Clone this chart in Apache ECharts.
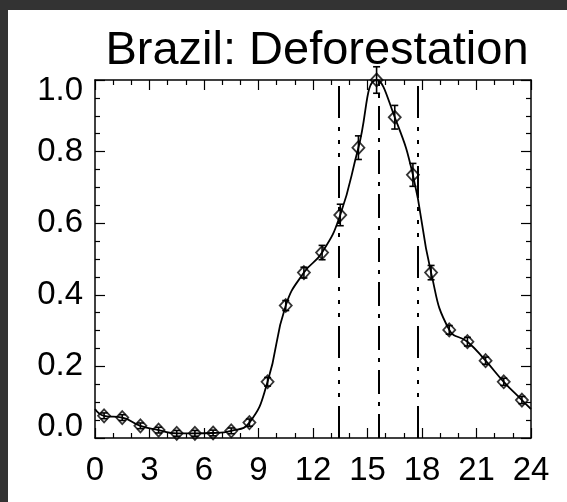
<!DOCTYPE html>
<html><head><meta charset="utf-8">
<script src="https://cdn.jsdelivr.net/npm/echarts@6/dist/echarts.min.js"></script>
<style>
html,body{margin:0;padding:0;background:#333333;width:567px;height:502px;overflow:hidden}
#c{position:absolute;left:8px;top:10px;width:559px;height:492px;background:#ffffff}
</style></head><body><div id="c"></div>
<script>
const chartTitle = 'Brazil: Deforestation';
const hours = [0.5,1.5,2.5,3.5,4.5,5.5,6.5,7.5,8.5,9.5,10.5,11.5,12.5,13.5,14.5,15.5,16.5,17.5,18.5,19.5,20.5,21.5,22.5,23.5];
const values = [0.062,0.057,0.034,0.022,0.013,0.013,0.014,0.020,0.043,0.157,0.370,0.462,0.518,0.623,0.811,1.000,0.896,0.735,0.462,0.302,0.269,0.216,0.157,0.106];
const errors = [0.008,0.008,0.008,0.008,0.008,0.008,0.008,0.008,0.010,0.012,0.014,0.015,0.020,0.030,0.033,0.037,0.033,0.032,0.020,0.012,0.012,0.010,0.010,0.010];
const curveStartX = 0, curveStartY = 0.081;
const curveEndX = 24, curveEndY = 0.081;
const xTickValues = [0,3,6,9,12,15,18,21,24];
const yTickValues = [0.0,0.2,0.4,0.6,0.8,1.0];
const markerLines = [13.39, 15.63, 17.76];

const FONT = '"Liberation Sans", Arial, Helvetica, sans-serif';
const curveData = [[curveStartX, curveStartY]].concat(hours.map((h,i)=>[h, values[i]])).concat([[curveEndX, curveEndY]]);
const pointData = hours.map((h,i)=>[h, values[i], errors[i]]);
const dashDotDotDot = [32,9,4,9,4,9,4,9];
const dashDot = [24,8,4,8];

const baseX = {
  type:'value', min:xTickValues[0], max:xTickValues[xTickValues.length-1], interval:3,
  axisLine:{show:true, onZero:false, lineStyle:{color:'#000', width:1.5}},
  axisTick:{show:true, inside:true, length:10, lineStyle:{color:'#000', width:1.2}},
  minorTick:{show:true, splitNumber:3, length:5, lineStyle:{color:'#000', width:1.2}},
  splitLine:{show:false}, minorSplitLine:{show:false}
};
const baseY = {
  type:'value', min:yTickValues[0], max:yTickValues[yTickValues.length-1], interval:0.2,
  axisLine:{show:true, onZero:false, lineStyle:{color:'#000', width:1.5}},
  axisTick:{show:true, inside:true, length:10, lineStyle:{color:'#000', width:1.2}},
  minorTick:{show:true, splitNumber:4, length:5, lineStyle:{color:'#000', width:1.2}},
  splitLine:{show:false}, minorSplitLine:{show:false}
};

const chart = echarts.init(document.getElementById('c'), null, {renderer:'canvas'});
chart.setOption({
  animation:false,
  backgroundColor:'#ffffff',
  title:{text:chartTitle, left:304, top:13, textAlign:'center',
    textStyle:{fontFamily:FONT, fontSize:47, fontWeight:'normal', color:'#000'}},
  grid:{left:87, top:70, right:36, bottom:64, containLabel:false},
  xAxis:[
    Object.assign({}, baseX, {position:'bottom',
      axisLabel:{show:true, margin:16, fontFamily:FONT, fontSize:33, color:'#000',
        formatter:v=>String(Math.round(v))}}),
    Object.assign({}, baseX, {position:'top', axisLabel:{show:false}})
  ],
  yAxis:[
    Object.assign({}, baseY, {position:'left',
      axisLabel:{show:true, margin:12, fontFamily:FONT, fontSize:33, lineHeight:22, color:'#000',
        verticalAlignMinLabel:'bottom', verticalAlignMaxLabel:'top',
        formatter:v=>v.toFixed(1)}}),
    Object.assign({}, baseY, {position:'right', axisLabel:{show:false}})
  ],
  series:[
    {type:'line', xAxisIndex:0, yAxisIndex:0, data:curveData, smooth:0.5, showSymbol:false, clip:false,
      lineStyle:{color:'#000', width:1.8}, z:3,
      markLine:{silent:true, symbol:['none','none'], label:{show:false},
        lineStyle:{color:'#000', width:2, type:dashDotDotDot},
        data:markerLines.map((v,i)=>({xAxis:v, lineStyle:{color:'#000', width:2, type:(i===1?dashDot:dashDotDotDot)}}))}},
    {type:'custom', xAxisIndex:0, yAxisIndex:0, data:pointData, clip:false, z:4,
      renderItem:function(params, api){
        const x=api.value(0), y=api.value(1), e=api.value(2);
        const t=api.coord([x, y+e]), b=api.coord([x, y-e]);
        const cw=3.5, st={stroke:'#000', lineWidth:1.6};
        return {type:'group', children:[
          {type:'line', shape:{x1:t[0],y1:t[1],x2:b[0],y2:b[1]}, style:st},
          {type:'line', shape:{x1:t[0]-cw,y1:t[1],x2:t[0]+cw,y2:t[1]}, style:st},
          {type:'line', shape:{x1:b[0]-cw,y1:b[1],x2:b[0]+cw,y2:b[1]}, style:st}
        ]};
      }},
    {type:'scatter', xAxisIndex:0, yAxisIndex:0, data:pointData.map(p=>[p[0],p[1]]), clip:false, z:5,
      symbol:'diamond', symbolSize:[12,13],
      itemStyle:{color:'rgba(0,0,0,0)', borderColor:'#000', borderWidth:1.8}}
  ]
});
</script></body></html>
